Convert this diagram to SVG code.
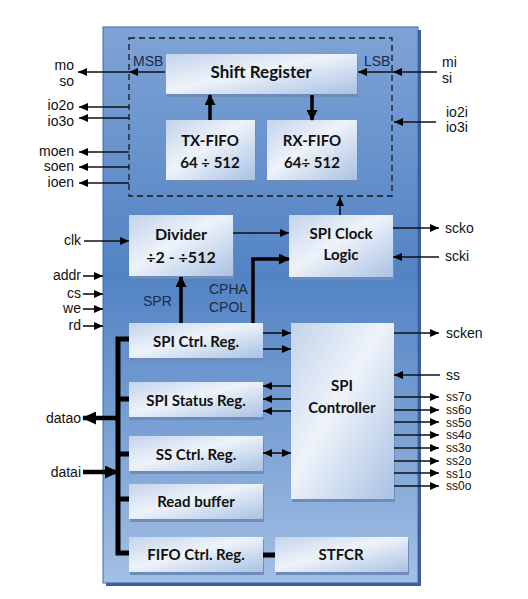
<svg xmlns="http://www.w3.org/2000/svg" width="528" height="599" viewBox="0 0 528 599">
<style>
.bt{font-family:Lato,"Open Sans",sans-serif;font-weight:bold;font-size:15px;fill:#111;text-anchor:middle}
.lb{font-family:"Liberation Sans",Arial,sans-serif;font-size:14px;fill:#111}
.ss{font-family:"Liberation Sans",Arial,sans-serif;font-size:12px;fill:#111}
.r{text-anchor:end}
.in{font-family:"Liberation Sans",Arial,sans-serif;font-size:14px;fill:#1b2a47}
.box{fill:url(#bg)}
.sh{fill:#6d8cba}
.t{stroke:#111;stroke-width:1.6;fill:none}
.k{stroke:#000;stroke-width:3.5;fill:none}
</style>
<defs>
<linearGradient id="main" x1="0" y1="0" x2="0" y2="1">
<stop offset="0" stop-color="#7ea3d6"/>
<stop offset="0.45" stop-color="#5283c4"/>
<stop offset="1" stop-color="#a3bfe4"/>
</linearGradient>
<linearGradient id="bg" x1="0" y1="0" x2="1" y2="1">
<stop offset="0" stop-color="#c3d3eb"/>
<stop offset="0.45" stop-color="#eef3fa"/>
<stop offset="1" stop-color="#a9c1e3"/>
</linearGradient>
<marker id="a" markerUnits="userSpaceOnUse" markerWidth="9" markerHeight="8" refX="9" refY="4" orient="auto-start-reverse"><path d="M0,0L9,4L0,8z" fill="#000"/></marker>
<marker id="b" markerUnits="userSpaceOnUse" markerWidth="11" markerHeight="11" refX="10" refY="5.5" orient="auto"><path d="M0,0L11,5.5L0,11z" fill="#000"/></marker>
<marker id="c" markerUnits="userSpaceOnUse" markerWidth="14" markerHeight="13" refX="13" refY="6.5" orient="auto"><path d="M0,0L14,6.5L0,13z" fill="#000"/></marker>
</defs>

<g id="soc">
<rect x="106" y="30" width="315" height="556" fill="#3d5f92"/>
<rect x="103" y="27" width="315" height="556" fill="url(#main)" stroke="#4169a6" stroke-width="1"/>
<rect x="129" y="38" width="263" height="158" fill="none" stroke="#1a1a1a" stroke-width="1.3" stroke-dasharray="6,4"/>
</g>

<g id="shift-register">
<rect class="sh" x="167" y="57" width="191" height="40"/>
<rect class="box" x="166" y="54" width="191" height="40"/>
<text class="bt" x="261" y="78" style="font-size:17px">Shift Register</text>
</g>
<g id="tx-fifo">
<rect class="sh" x="167" y="123" width="89" height="60"/>
<rect class="box" x="166" y="120" width="89" height="60"/>
<text class="bt" x="210" y="146">TX-FIFO</text>
<text class="bt" x="210" y="168">64 ÷ 512</text>
</g>
<g id="rx-fifo">
<rect class="sh" x="268" y="123" width="90" height="60"/>
<rect class="box" x="267" y="120" width="90" height="60"/>
<text class="bt" x="312" y="146">RX-FIFO</text>
<text class="bt" x="312" y="168">64÷ 512</text>
</g>
<g id="divider">
<rect class="sh" x="130" y="218" width="104" height="61"/>
<rect class="box" x="129" y="215" width="104" height="61"/>
<text class="bt" x="181" y="240" style="font-size:16px">Divider</text>
<text class="bt" x="181" y="263" style="font-size:16px">÷2 - ÷512</text>
</g>
<g id="spi-clock-logic">
<rect class="sh" x="290" y="218" width="104" height="62"/>
<rect class="box" x="289" y="215" width="104" height="62"/>
<text class="bt" x="341" y="239">SPI Clock</text>
<text class="bt" x="341" y="260">Logic</text>
</g>
<g id="spi-ctrl-reg">
<rect class="sh" x="130" y="326" width="134" height="35"/>
<rect class="box" x="129" y="323" width="134" height="35"/>
<text class="bt" x="196" y="347">SPI Ctrl. Reg.</text>
</g>
<g id="spi-status-reg">
<rect class="sh" x="130" y="385" width="134" height="35"/>
<rect class="box" x="129" y="382" width="134" height="35"/>
<text class="bt" x="196" y="406">SPI Status Reg.</text>
</g>
<g id="ss-ctrl-reg">
<rect class="sh" x="130" y="439" width="134" height="35"/>
<rect class="box" x="129" y="436" width="134" height="35"/>
<text class="bt" x="196" y="460">SS Ctrl. Reg.</text>
</g>
<g id="read-buffer">
<rect class="sh" x="130" y="487" width="134" height="35"/>
<rect class="box" x="129" y="484" width="134" height="35"/>
<text class="bt" x="196" y="507">Read buffer</text>
</g>
<g id="fifo-ctrl-reg">
<rect class="sh" x="130" y="540" width="134" height="35"/>
<rect class="box" x="129" y="537" width="134" height="35"/>
<text class="bt" x="196" y="560">FIFO Ctrl. Reg.</text>
</g>
<g id="stfcr">
<rect class="sh" x="276" y="540" width="133" height="35"/>
<rect class="box" x="275" y="537" width="133" height="35"/>
<text class="bt" x="341" y="560">STFCR</text>
</g>
<g id="spi-controller">
<rect class="sh" x="292" y="326" width="103" height="176"/>
<rect class="box" x="291" y="323" width="103" height="176"/>
<text class="bt" x="342" y="391">SPI</text>
<text class="bt" x="342" y="413">Controller</text>
</g>

<g id="connectors">
<line class="t" x1="165" y1="72" x2="129" y2="72" marker-end="url(#a)"/>
<line class="t" x1="129" y1="72" x2="78" y2="72" marker-end="url(#a)"/>
<line class="t" x1="437" y1="72" x2="393" y2="72" marker-end="url(#a)"/>
<line class="t" x1="393" y1="72" x2="358" y2="72" marker-end="url(#a)"/>
<line class="t" x1="129" y1="107" x2="79" y2="107" marker-end="url(#a)"/>
<line class="t" x1="129" y1="118" x2="79" y2="118" marker-end="url(#a)"/>
<line class="t" x1="129" y1="152" x2="79" y2="152" marker-end="url(#a)"/>
<line class="t" x1="129" y1="167" x2="79" y2="167" marker-end="url(#a)"/>
<line class="t" x1="129" y1="183" x2="79" y2="183" marker-end="url(#a)"/>
<line class="t" x1="436" y1="122" x2="394" y2="122" marker-end="url(#a)"/>
<line class="k" x1="210" y1="120" x2="210" y2="95" marker-end="url(#b)"/>
<line class="k" x1="312" y1="95" x2="312" y2="120" marker-end="url(#b)"/>
<line class="t" x1="340" y1="215" x2="340" y2="197" marker-end="url(#a)"/>
<line class="t" x1="84" y1="241" x2="129" y2="241" marker-end="url(#a)"/>
<line class="t" x1="233" y1="233" x2="289" y2="233" marker-end="url(#a)"/>
<polyline class="k" points="253,323 253,259 289,259" marker-end="url(#b)"/>
<line class="k" x1="181" y1="323" x2="181" y2="277" marker-end="url(#b)"/>
<line class="t" x1="83" y1="276" x2="103" y2="276" marker-end="url(#a)"/>
<line class="t" x1="83" y1="294" x2="103" y2="294" marker-end="url(#a)"/>
<line class="t" x1="83" y1="309" x2="103" y2="309" marker-end="url(#a)"/>
<line class="t" x1="83" y1="326" x2="103" y2="326" marker-end="url(#a)"/>
<line class="t" x1="393" y1="228" x2="439" y2="228" marker-end="url(#a)"/>
<line class="t" x1="439" y1="257" x2="393" y2="257" marker-end="url(#a)"/>
<line class="t" x1="263" y1="333" x2="291" y2="333" marker-end="url(#a)"/>
<line class="t" x1="263" y1="349" x2="291" y2="349" marker-end="url(#a)"/>
<line class="t" x1="291" y1="386" x2="263" y2="386" marker-end="url(#a)"/>
<line class="t" x1="291" y1="399" x2="263" y2="399" marker-end="url(#a)"/>
<line class="t" x1="291" y1="411" x2="263" y2="411" marker-end="url(#a)"/>
<line class="t" x1="263" y1="453" x2="291" y2="453" stroke-width="2.4" marker-start="url(#a)" marker-end="url(#a)"/>
<line class="t" x1="394" y1="333" x2="439" y2="333" marker-end="url(#a)"/>
<line class="t" x1="440" y1="375" x2="394" y2="375" marker-end="url(#a)"/>
<line class="t" x1="394" y1="397" x2="439" y2="397" marker-end="url(#a)"/>
<line class="t" x1="394" y1="410" x2="439" y2="410" marker-end="url(#a)"/>
<line class="t" x1="394" y1="422" x2="439" y2="422" marker-end="url(#a)"/>
<line class="t" x1="394" y1="435" x2="439" y2="435" marker-end="url(#a)"/>
<line class="t" x1="394" y1="448" x2="439" y2="448" marker-end="url(#a)"/>
<line class="t" x1="394" y1="461" x2="439" y2="461" marker-end="url(#a)"/>
<line class="t" x1="394" y1="473" x2="439" y2="473" marker-end="url(#a)"/>
<line class="t" x1="394" y1="486" x2="439" y2="486" marker-end="url(#a)"/>
<polyline points="129,339 118,339 118,553 129,553" fill="none" stroke="#000" stroke-width="5"/>
<line x1="118" y1="399" x2="129" y2="399" stroke="#000" stroke-width="5"/>
<line x1="118" y1="454" x2="129" y2="454" stroke="#000" stroke-width="5"/>
<line x1="118" y1="499" x2="129" y2="499" stroke="#000" stroke-width="5"/>
<line x1="118" y1="418" x2="83" y2="418" stroke="#000" stroke-width="4.5" marker-end="url(#c)"/>
<line x1="83" y1="472" x2="118" y2="472" stroke="#000" stroke-width="4.5" marker-end="url(#c)"/>
<line x1="263" y1="555" x2="275" y2="555" stroke="#000" stroke-width="5"/>
</g>

<g id="labels">
<text class="in" x="133" y="66">MSB</text>
<text class="in" x="364" y="66">LSB</text>
<text class="in" x="143" y="306">SPR</text>
<text class="in" x="209" y="294">CPHA</text>
<text class="in" x="209" y="312">CPOL</text>
<text class="lb r" x="74" y="70">mo</text>
<text class="lb r" x="74" y="86">so</text>
<text class="lb r" x="74" y="110">io2o</text>
<text class="lb r" x="74" y="126">io3o</text>
<text class="lb r" x="74" y="156">moen</text>
<text class="lb r" x="74" y="171">soen</text>
<text class="lb r" x="74" y="187">ioen</text>
<text class="lb r" x="81" y="245">clk</text>
<text class="lb r" x="81" y="280">addr</text>
<text class="lb r" x="81" y="298">cs</text>
<text class="lb r" x="81" y="313">we</text>
<text class="lb r" x="81" y="330">rd</text>
<text class="lb r" x="81" y="423">datao</text>
<text class="lb r" x="81" y="477">datai</text>
<text class="lb" x="442" y="67">mi</text>
<text class="lb" x="442" y="83">si</text>
<text class="lb" x="446" y="117">io2i</text>
<text class="lb" x="446" y="132">io3i</text>
<text class="lb" x="445" y="233">scko</text>
<text class="lb" x="445" y="261">scki</text>
<text class="lb" x="446" y="338">scken</text>
<text class="lb" x="446" y="380">ss</text>
<text class="ss" x="446" y="401">ss7o</text>
<text class="ss" x="446" y="414">ss6o</text>
<text class="ss" x="446" y="426.5">ss5o</text>
<text class="ss" x="446" y="439">ss4o</text>
<text class="ss" x="446" y="452">ss3o</text>
<text class="ss" x="446" y="465">ss2o</text>
<text class="ss" x="446" y="477.5">ss1o</text>
<text class="ss" x="446" y="490">ss0o</text>
</g>
</svg>
